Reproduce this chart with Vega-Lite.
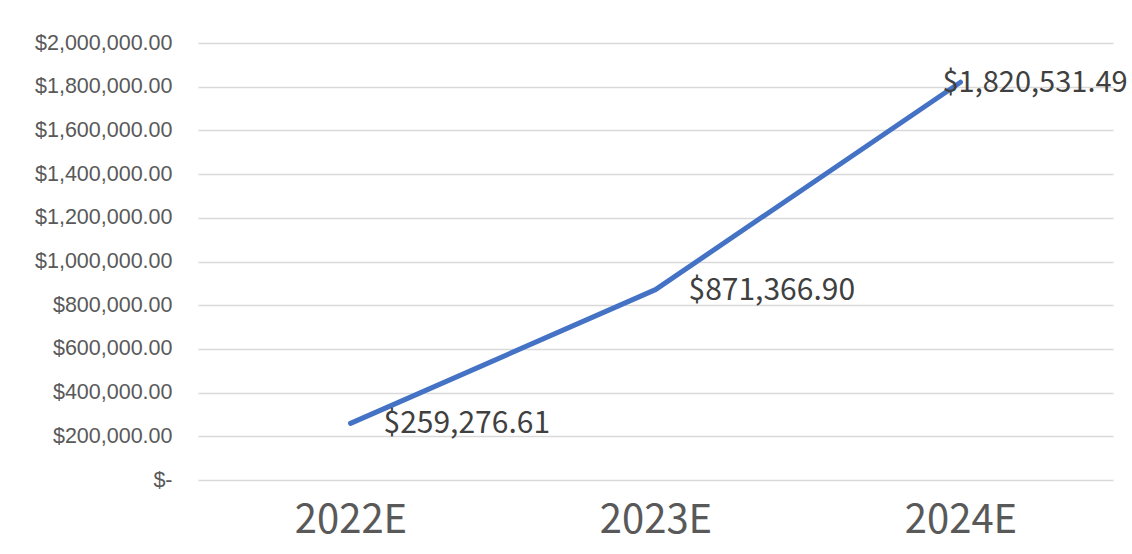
{
  "$schema": "https://vega.github.io/schema/vega-lite/v6.json",
  "autosize": {"type": "none"},
  "width": 915,
  "height": 437,
  "padding": {"left": 198, "top": 43, "right": 19, "bottom": 74},
  "background": "white",
  "config": {"view": {"stroke": null}},
  "data": {"values": [
    {"year": "2022E", "value": 259276.61},
    {"year": "2023E", "value": 871366.90},
    {"year": "2024E", "value": 1820531.49}
  ]},
  "encoding": {
    "x": {"field": "year", "type": "ordinal", "scale": {"type": "point", "padding": 0.5},
      "axis": {"title": null, "domain": false, "ticks": false, "grid": false, "labelAngle": 0,
        "labelFont": "Noto Sans CJK SC", "labelFontSize": 40, "labelColor": "#595959", "labelPadding": 20}},
    "y": {"field": "value", "type": "quantitative", "scale": {"domain": [0, 2000000], "nice": false},
      "axis": {"title": null, "domain": false, "ticks": false, "values": [0,200000,400000,600000,800000,1000000,1200000,1400000,1600000,1800000,2000000],
        "labelExpr": "datum.value == 0 ? '$-' : '$' + format(datum.value, ',.2f')",
        "labelFont": "Liberation Sans", "labelFontSize": 21.5, "labelColor": "#595959", "labelPadding": 26,
        "gridColor": "#d9d9d9", "gridWidth": 1.5}}
  },
  "layer": [
    {"mark": {"type": "line", "color": "#4472C4", "strokeWidth": 5, "strokeCap": "round", "strokeJoin": "round"}},
    {"transform": [{"filter": "datum.year != '2024E'"}],
      "mark": {"type": "text", "align": "left", "baseline": "middle", "dx": 33, "dy": 1, "font": "Noto Sans CJK SC", "fontSize": 30, "color": "#404040"},
      "encoding": {"text": {"field": "value", "type": "quantitative", "format": "$,.2f"}}},
    {"transform": [{"filter": "datum.year == '2024E'"}],
      "mark": {"type": "text", "align": "left", "baseline": "middle", "dx": -18, "dy": 1, "font": "Noto Sans CJK SC", "fontSize": 29, "color": "#404040"},
      "encoding": {"text": {"field": "value", "type": "quantitative", "format": "$,.2f"}}}
  ]
}
